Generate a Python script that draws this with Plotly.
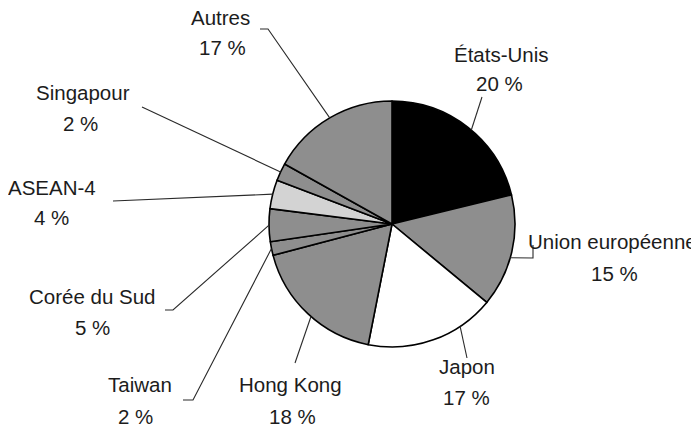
import math
import plotly.graph_objects as go

# the page body keeps its default 8px margin, so the figure is drawn 8px in
OFF = 8
W, H = 699 - OFF, 429 - OFF

partners = ["États-Unis", "Union européenne", "Japon", "Hong Kong", "Taiwan",
            "Corée du Sud", "ASEAN-4", "Singapour", "Autres"]
shares = [21.2, 14.8, 17.1, 17.8, 1.8, 4.3, 3.8, 2.3, 16.9]
pct_labels = ["20 %", "15 %", "17 %", "18 %", "2 %", "5 %", "4 %", "2 %", "17 %"]

GRAY = "#8e8e8e"
LIGHT = "#d3d3d3"
colors = ["#000000", GRAY, "#ffffff", GRAY, GRAY, GRAY, LIGHT, GRAY, GRAY]
TEXT = "#1c1c1c"
FONT = "Liberation Sans, Arial, sans-serif"

# pie placement (window pixels)
CX, CY, R = 392, 224, 123

# label layout in window pixels: name centre, percent centre, leader route after the rim point
name_pos = [(501, 54), (612, 242), (467, 366), (290, 384), (140, 384),
            (92, 296), (52, 187), (83, 92), (220, 18)]
pct_pos = [(499, 84), (614, 273), (466, 397), (292, 416), (136, 416),
           (92, 327), (51, 217), (80, 123), (222, 48)]
routes = [[(482, 97)], [(533, 258), (533, 245)], [(467, 358)], [(295, 363)],
          [(193, 400), (183, 400)], [(173, 310), (165, 310)], [(113, 201)],
          [(142, 107)], [(268, 29), (260, 29)]]
leader_shift = [2, 3, -14, -2, 0, 0, 0, 0, 0]  # degrees


def px(x, y):
    return (x - OFF) / W, 1 - (y - OFF) / H


fig = go.Figure(go.Pie(
    labels=partners, values=shares, sort=False, direction="clockwise",
    rotation=0, textinfo="none", hoverinfo="label+percent",
    marker=dict(colors=colors, line=dict(color="#000000", width=1.6)),
    domain=dict(x=[px(CX - R, 0)[0], px(CX + R, 0)[0]],
                y=[px(0, CY + R)[1], px(0, CY - R)[1]]),
    showlegend=False,
))

total = sum(shares)
cum = 0
for i, s in enumerate(shares):
    theta = math.radians((cum + s / 2) / total * 360 + leader_shift[i])
    cum += s
    x0 = CX + R * math.sin(theta)
    y0 = CY - R * math.cos(theta)
    pts = [(x0, y0)] + routes[i]
    path = "M " + " L ".join(f"{px(x, y)[0]:.5f},{px(x, y)[1]:.5f}" for x, y in pts)
    fig.add_shape(type="path", path=path, xref="paper", yref="paper",
                  line=dict(color="#2a2a2a", width=1.1))

    for txt, pos in ((partners[i], name_pos[i]), (pct_labels[i], pct_pos[i])):
        ax, ay = px(*pos)
        fig.add_annotation(x=ax, y=ay, xref="paper", yref="paper", text=txt,
                           showarrow=False, xanchor="center", yanchor="middle",
                           font=dict(family=FONT, size=20.5, color=TEXT))

fig.update_layout(
    width=W, height=H,
    margin=dict(l=0, r=0, t=0, b=0),
    paper_bgcolor="#ffffff", plot_bgcolor="#ffffff",
    font=dict(family=FONT, color=TEXT),
)

fig.write_html("out.html")
